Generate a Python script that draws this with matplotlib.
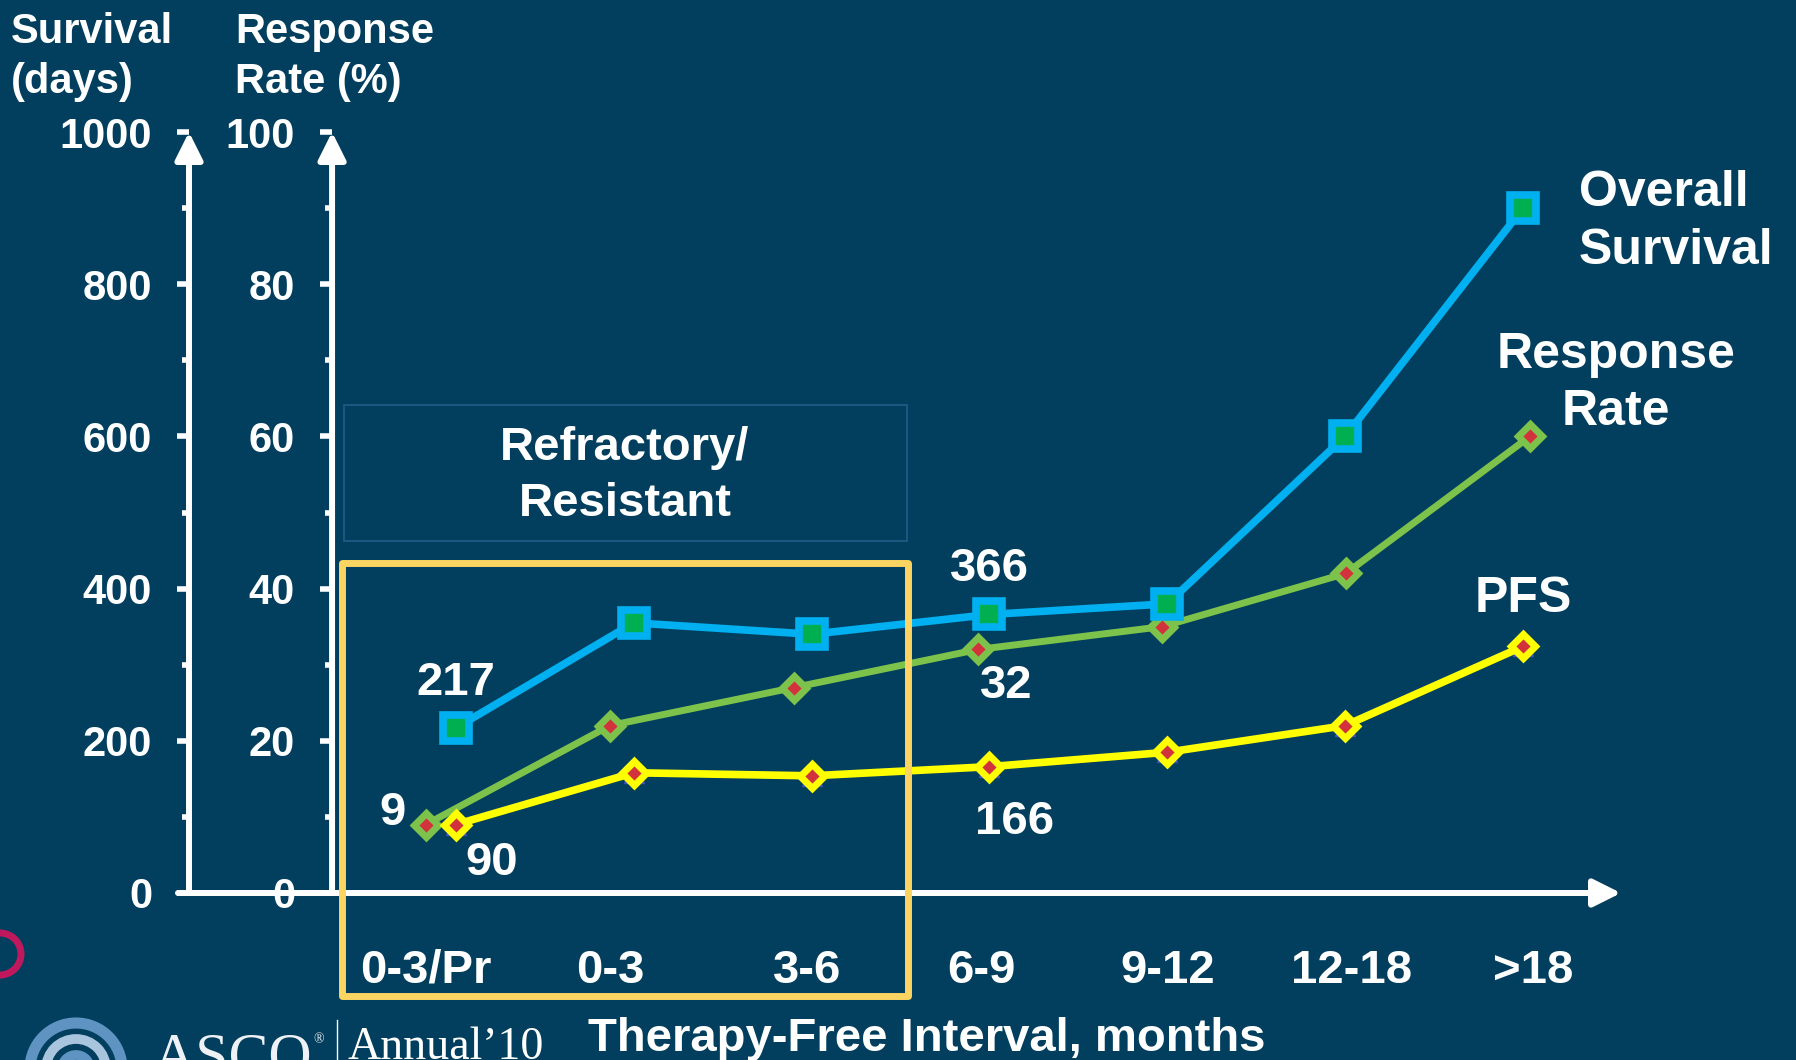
import matplotlib.pyplot as plt
import matplotlib.patches as mpatches
import numpy as np

plt.rcParams['font.family'] = ['Liberation Sans', 'DejaVu Sans']
plt.rcParams['font.weight'] = 'bold'

# data
categories = ['0-3/Pr', '0-3', '3-6', '6-9', '9-12', '12-18', '>18']
overall_survival = [217, 355, 340, 366, 380, 600, 900]   # days
pfs = [90, 158, 154, 166, 185, 220, 324]                  # days
response_rate = [9, 22, 27, 32, 35, 42, 60]               # %
survival_ticks = [0, 200, 400, 600, 800, 1000]
response_ticks = [0, 20, 40, 60, 80, 100]

BG = '#023F5E'
OS_COLOR = '#00B0F0'
OS_FACE = '#00B050'
RR_COLOR = '#7DC24B'
PFS_COLOR = '#FFFF00'
RED = '#D2323C'
BOX_YELLOW = '#FCD462'

W, H = 1796, 1060
fig = plt.figure(figsize=(W / 100, H / 100), dpi=100, facecolor=BG)


def px_rect(x0, y0, x1, y1):
    """pixel box (origin top-left) -> figure fraction rect"""
    return [x0 / W, 1 - y1 / H, (x1 - x0) / W, (y1 - y0) / H]


rect = px_rect(189, 132, 1621, 893)
ax_rr = fig.add_axes(rect)
ax = fig.add_axes(rect)
idx = np.arange(len(categories))

for a in (ax, ax_rr):
    a.set_facecolor('none')
    for s in a.spines.values():
        s.set_visible(False)

# response rate axis (underneath), own x scale like the slide
ax_rr.set_xlim(-1.288, 6.495)
ax_rr.set_ylim(0, 100)
ax_rr.spines['left'].set_position(('axes', 0.0999))
ax_rr.set_yticks(response_ticks)
ax_rr.set_yticks([10, 30, 50, 70, 90], minor=True)
ax_rr.set_xticks(idx * 1.0 + np.array([0, 0, 0.07, 0.02, 0.03, 0.03, 0.02]))
ax_rr.set_xticklabels(categories)
ax_rr.tick_params(axis='x', length=0, pad=40, labelsize=34, labelcolor='white')

# survival axis on top
ax.set_xlim(-1.501, 6.551)
ax.set_ylim(0, 1000)
ax.set_yticks(survival_ticks)
ax.set_yticks([100, 300, 500, 700, 900], minor=True)
ax.tick_params(axis='x', bottom=False, labelbottom=False)

for a in (ax, ax_rr):
    a.tick_params(axis='y', which='major', length=8.6, width=4, color='white',
                  pad=18, labelsize=30, labelcolor='white')
    a.tick_params(axis='y', which='minor', length=5, width=4, color='white')

# axis lines with arrow heads
arrow = dict(arrowstyle='-|>', color='white', lw=4.3, mutation_scale=42,
             shrinkA=0, shrinkB=0)
ax.annotate('', xy=(0, 1), xytext=(0, 0), xycoords='axes fraction',
            arrowprops=arrow, annotation_clip=False)
ax.annotate('', xy=(0.0999, 1), xytext=(0.0999, 0), xycoords='axes fraction',
            arrowprops=arrow, annotation_clip=False)
ax.annotate('', xy=(1, 0), xytext=(-0.0077, 0), xycoords='axes fraction',
            arrowprops=arrow, annotation_clip=False)

# series
ax_rr.plot(idx, response_rate, color=RR_COLOR, lw=5, marker='D', ms=12.5,
           mfc=RED, mec=RR_COLOR, mew=5, zorder=4, clip_on=False)
ax.plot(idx, overall_survival, color=OS_COLOR, lw=5.5, marker='s', ms=19,
        mfc=OS_FACE, mec=OS_COLOR, mew=5.5, zorder=4, clip_on=False)
ax.plot(idx, pfs, ls='none', marker='^', ms=15, color='#3F4FBF', zorder=3)
ax.plot(idx, pfs, color=PFS_COLOR, lw=5.5, marker='D', ms=12, mfc=RED,
        mec=PFS_COLOR, mew=5, zorder=5, clip_on=False)

# value labels
lab = dict(textcoords='offset points', ha='center', va='center',
           fontsize=34, color='white', annotation_clip=False)
ax.annotate('217', (0, overall_survival[0]), xytext=(0, 32), **lab)
ax.annotate('366', (3, overall_survival[3]), xytext=(0, 33), **lab)
ax.annotate('90', (0, pfs[0]), xytext=(26, -28), **lab)
ax.annotate('166', (3, pfs[3]), xytext=(18, -40), **lab)
ax_rr.annotate('9', (0, response_rate[0]), xytext=(-24, 8), **lab)
ax_rr.annotate('32', (3, response_rate[3]), xytext=(20, -26), **lab)

# series names
name = dict(textcoords='offset points', va='center', fontsize=36,
            color='white', annotation_clip=False, linespacing=1.32)
ax.annotate('Overall\nSurvival', (6, overall_survival[6]), xytext=(40, -10),
            ha='left', **name)
ax_rr.annotate('Response\nRate', (6, response_rate[6]), xytext=(62, 38),
               ha='center', multialignment='center', **name)
ax.annotate('PFS', (6, pfs[6]), xytext=(0, 34), ha='center', **name)

# axis titles
fig.text(11 / W, 1 - 12 / H, 'Survival\n(days)', ha='left', va='top',
         fontsize=30, color='white', linespacing=1.32)
fig.text(235 / W, 1 - 12 / H, 'Response\nRate (%)', ha='left', va='top',
         fontsize=30, color='white', linespacing=1.32)
fig.text(927 / W, 1 - 1039 / H, 'Therapy-Free Interval, months', ha='center',
         va='center', fontsize=34, color='white')

# refractory / resistant boxes
fig.add_artist(mpatches.Rectangle((0.1915, 0.4896), 0.3135, 0.1283,
                                  transform=fig.transFigure, fill=False,
                                  ec='#1D5A85', lw=1.3))
fig.text(0.348, 0.551, 'Refractory/\nResistant', ha='center', va='center',
         multialignment='center', fontsize=34, color='white', linespacing=1.35)
fig.add_artist(mpatches.Rectangle((0.1904, 0.0604), 0.3152, 0.4085,
                                  transform=fig.transFigure, fill=False,
                                  ec=BOX_YELLOW, lw=5, joinstyle='round'))

# slide decorations: magenta ring and ASCO footer
fig.add_artist(mpatches.Circle((0.0, 1.06), 0.21, transform=fig.dpi_scale_trans,
                               fill=False, ec='#C0185C', lw=5))
for r, c, w in [(0.46, '#5E93C2', 8), (0.30, '#A9C4DD', 7), (0.14, '#5E93C2', 7)]:
    fig.add_artist(mpatches.Circle((0.76, -0.09), r, transform=fig.dpi_scale_trans,
                                   fill=False, ec=c, lw=w))
fig.text(152 / W, -13 / H, 'ASCO', ha='left', va='baseline', fontsize=43,
         family=['Liberation Serif', 'DejaVu Serif'], weight='normal',
         color='#EEF2F6')
fig.text(313 / W, 1 - 1040 / H, '\u00ae', ha='left', va='center', fontsize=10,
         family=['Liberation Serif', 'DejaVu Serif'], weight='normal',
         color='#EEF2F6')
fig.add_artist(plt.Line2D([337 / W, 337 / W], [0, 1 - 1020 / H],
                          transform=fig.transFigure, color='white', lw=1))
fig.text(348 / W, 1 / H, 'Annual\u201910', ha='left', va='baseline',
         fontsize=33, family=['Liberation Serif', 'DejaVu Serif'],
         weight='normal', color='white')

fig.savefig('out.png', dpi=100, facecolor=BG)
